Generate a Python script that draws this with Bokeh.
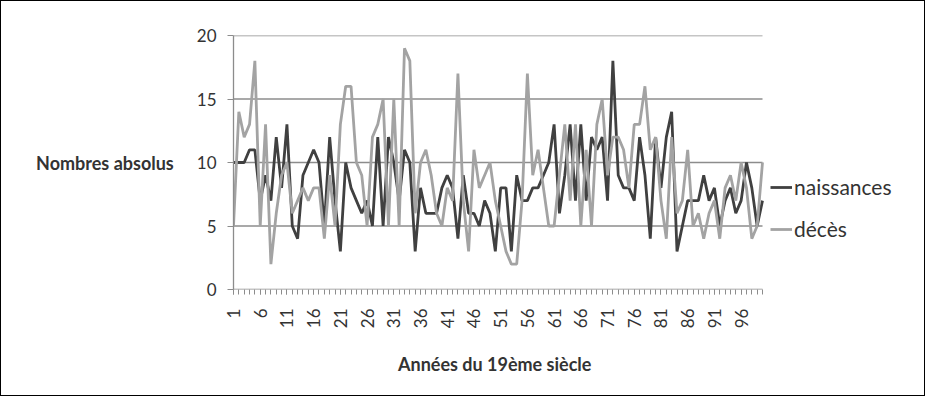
import math
from bokeh.plotting import figure
from bokeh.models import FixedTicker, Legend, LegendItem, Range1d, Title
from bokeh.embed import file_html
from bokeh.resources import INLINE

# ---- data ----
annees = list(range(1, 101))
naissances = [10, 10, 10, 11, 11, 7, 9, 7, 12, 8,
              13, 5, 4, 9, 10, 11, 10, 5, 12, 7,
              3, 10, 8, 7, 6, 7, 5, 12, 5, 12,
              10, 7, 11, 10, 3, 8, 6, 6, 6, 8,
              9, 8, 4, 9, 6, 6, 5, 7, 6, 3,
              8, 8, 3, 9, 7, 7, 8, 8, 9, 10,
              13, 6, 9, 13, 7, 13, 7, 12, 11, 12,
              7, 18, 9, 8, 8, 7, 12, 9, 4, 12,
              8, 12, 14, 3, 5, 7, 7, 7, 9, 7,
              8, 5, 7, 8, 6, 7, 10, 8, 5, 7]
deces = [5, 14, 12, 13, 18, 5, 13, 2, 6, 9,
         10, 6, 7, 8, 7, 8, 8, 4, 9, 5,
         13, 16, 16, 10, 9, 5, 12, 13, 15, 5,
         15, 5, 19, 18, 6, 10, 11, 9, 6, 5,
         8, 7, 17, 7, 3, 11, 8, 9, 10, 7,
         5, 3, 2, 2, 7, 17, 9, 11, 8, 5,
         5, 9, 13, 7, 13, 5, 11, 5, 13, 15,
         9, 12, 12, 11, 8, 13, 13, 16, 11, 12,
         7, 4, 12, 6, 7, 11, 5, 6, 4, 6,
         7, 4, 8, 9, 7, 10, 8, 4, 5, 10]
label_ticks = list(range(1, 101, 5))
y_ticks = [0, 5, 10, 15, 20]
series_names = ["naissances", "décès"]
y_title = "Nombres absolus"
x_title = "Années du 19ème siècle"

FONT = "Lato"
TXT = "#333333"
GRID = "#8c8c8c"

# ---- layout (pixels inside the bordered box) ----
W, H = 925, 396
LEFT, TOP, BOTTOM = 232, 34, 108
DATA_W = 529                     # width covered by the years 1..100
FRAME_RIGHT_PAD = 10             # frame extends under the legend area
frame_w = W - LEFT - FRAME_RIGHT_PAD
px_per_unit = DATA_W / (annees[-1] - annees[0])
x_end = annees[0] + frame_w / px_per_unit

p = figure(width=W, height=H, x_range=Range1d(annees[0], x_end), y_range=Range1d(y_ticks[0], y_ticks[-1]),
           output_backend="svg", toolbar_location=None,
           min_border_left=LEFT, min_border_right=FRAME_RIGHT_PAD,
           min_border_top=TOP, min_border_bottom=BOTTOM)
p.styles = {"border": "1px solid black"}
p.outline_line_color = None
p.background_fill_color = "white"
p.border_fill_color = "white"

# horizontal grid lines and x axis line, limited to the years' span
p.xgrid.visible = False
p.ygrid.visible = False
n_g = len(y_ticks)
p.segment(x0=[annees[0]] * n_g, x1=[annees[-1]] * n_g, y0=y_ticks, y1=y_ticks,
          line_color=GRID, line_width=1.3)

# x axis
xa = p.xaxis[0]
xa.ticker = FixedTicker(ticks=label_ticks, minor_ticks=annees)
xa.major_tick_in = 0
xa.major_tick_out = 5
xa.minor_tick_in = 0
xa.minor_tick_out = 5
xa.major_tick_line_color = GRID
xa.minor_tick_line_color = GRID
xa.axis_line_color = None
xa.major_label_orientation = math.pi / 2
xa.major_label_standoff = 14
xa.major_label_text_font = FONT
xa.major_label_text_font_size = "17px"
xa.major_label_text_color = TXT

# x title centred under the years' span (not under the whole frame)
TITLE_W = 194
p.add_layout(Title(text=x_title, align="left", offset=DATA_W / 2 - TITLE_W / 2 - 3,
                   standoff=38, text_font=FONT, text_font_style="bold",
                   text_font_size="18px", text_color=TXT), "below")

# y axis (title written horizontally, as in the reference)
ya = p.yaxis[0]
ya.ticker = FixedTicker(ticks=y_ticks)
ya.major_tick_in = 0
ya.major_tick_out = 6
ya.minor_tick_line_color = None
ya.major_tick_line_color = GRID
ya.axis_line_color = GRID
ya.axis_line_width = 1.3
ya.major_label_standoff = 11
ya.major_label_text_font = FONT
ya.major_label_text_font_size = "17px"
ya.major_label_text_color = TXT
ya.axis_label = y_title
ya.axis_label_orientation = "horizontal"
ya.axis_label_standoff = 20
ya.axis_label_text_font = FONT
ya.axis_label_text_font_style = "bold"
ya.axis_label_text_font_size = "18px"
ya.axis_label_text_color = TXT

# series
r1 = p.line(annees, naissances, line_color="#404040", line_width=2.8)
r2 = p.line(annees, deces, line_color="#a3a3a3", line_width=2.8)

legend = Legend(items=[LegendItem(label=series_names[0], renderers=[r1]),
                       LegendItem(label=series_names[1], renderers=[r2])],
                location=(DATA_W + 8, 48), orientation="vertical",
                border_line_color=None, background_fill_alpha=0,
                padding=0, margin=0, spacing=17, glyph_width=22, glyph_height=22,
                label_height=22, label_standoff=2,
                label_text_font=FONT, label_text_font_size="21px", label_text_color=TXT)
p.add_layout(legend, "center")

open("out.html", "w").write(file_html(p, INLINE))
